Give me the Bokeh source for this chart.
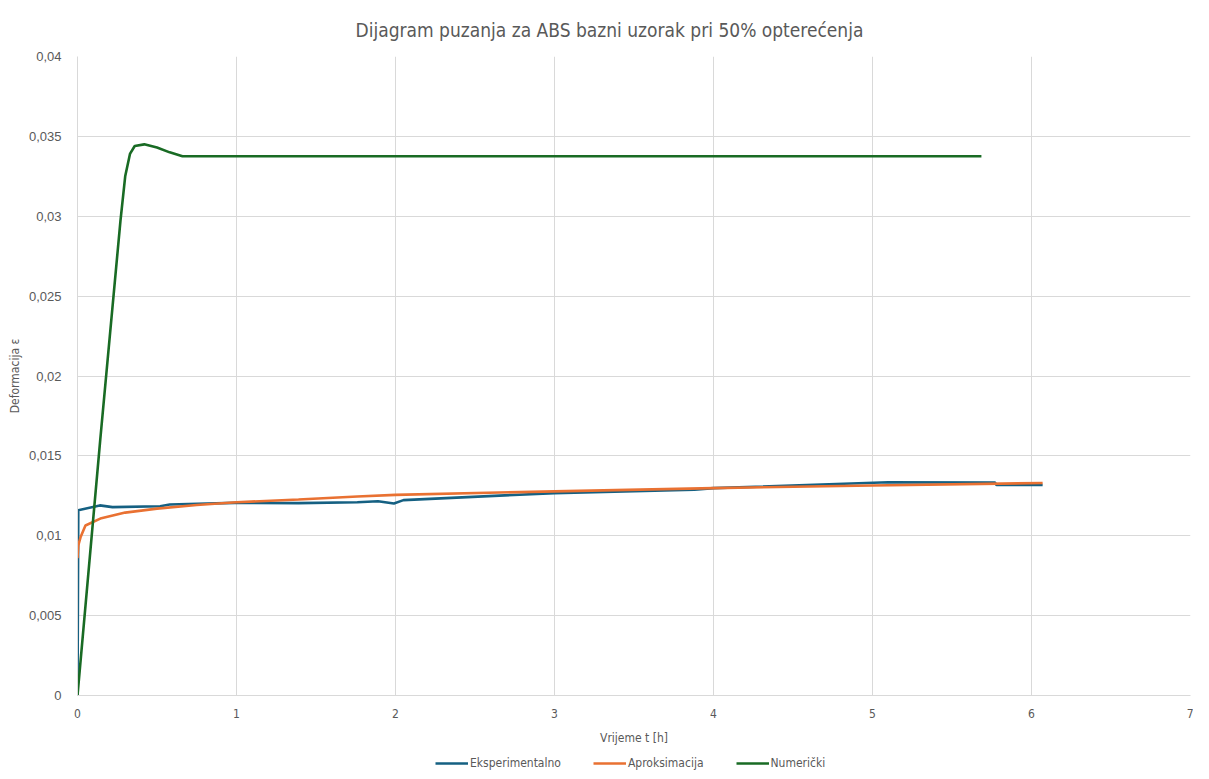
from bokeh.plotting import figure
from bokeh.layouts import column
from bokeh.models import FixedTicker, Legend, LegendItem, Range1d
from bokeh.embed import file_html
from bokeh.resources import INLINE

# Eksperimentalno (blue)
t_exp = [0, 0.005, 0.14, 0.22, 0.52, 0.58, 0.99, 1.39, 1.76, 1.89, 1.99, 2.05,
         3.0, 3.88, 4.0, 5.1, 5.77, 5.78, 6.07]
e_exp = [0.0, 0.0116, 0.0119, 0.01179, 0.01185, 0.01196, 0.01206, 0.01204, 0.0121,
         0.01216, 0.01202, 0.01223, 0.01267, 0.01289, 0.01298, 0.01335, 0.01333,
         0.01318, 0.01318]

# Aproksimacija (orange)
t_apr = [0, 0.005, 0.019, 0.05, 0.15, 0.3, 0.5, 0.75, 1.0, 1.39, 1.76, 2.0, 3.0,
         4.0, 5.0, 6.07]
e_apr = [0.0086, 0.0094, 0.0099, 0.01064, 0.0111, 0.01145, 0.0117, 0.01192,
         0.0121, 0.01227, 0.01246, 0.01256, 0.01278, 0.01298, 0.01315, 0.0133]

# Numerički (green)
t_num = [0, 0.143, 0.27, 0.30, 0.33, 0.36, 0.42, 0.5, 0.58, 0.66, 5.685]
e_num = [0.0, 0.016, 0.0297, 0.0325, 0.0339, 0.0344, 0.0345, 0.0343, 0.0340,
         0.03376, 0.03376]

x_ticks = [0, 1, 2, 3, 4, 5, 6, 7]
y_ticks = [0, 0.005, 0.01, 0.015, 0.02, 0.025, 0.03, 0.035, 0.04]
y_labels = ["0", "0,005", "0,01", "0,015", "0,02", "0,025", "0,03", "0,035", "0,04"]

title_txt = "Dijagram puzanja za ABS bazni uzorak  pri 50% opterećenja"
series_names = ["Eksperimentalno", "Aproksimacija", "Numerički"]
colors = ["#156082", "#E97132", "#196B24"]
series = [(t_exp, e_exp), (t_apr, e_apr), (t_num, e_num)]

NARROW = "DejaVu Sans Condensed, Roboto"
GREY = "#595959"

p1 = figure(width=1193, height=749, output_backend="svg", toolbar_location=None,
            x_range=Range1d(0, 7), y_range=Range1d(0, 0.04),
            min_border_left=77, min_border_right=3, min_border_top=56,
            min_border_bottom=54, title=title_txt)

p1.title.align = "left"
p1.title.offset = 278
p1.title.text_font = NARROW
p1.title.text_font_size = "19px"
p1.title.text_font_style = "normal"
p1.title.text_color = GREY
p1.title.standoff = 31

for (tx, ey), c in zip(series, colors):
    p1.line(tx, ey, line_color=c, line_width=2.6)

p1.xaxis.ticker = FixedTicker(ticks=x_ticks)
p1.yaxis.ticker = FixedTicker(ticks=y_ticks)
p1.yaxis.major_label_overrides = {t: l for t, l in zip(y_ticks, y_labels)}

for ax in (p1.xaxis, p1.yaxis):
    ax.axis_line_color = "#D9D9D9"
    ax.major_tick_line_color = None
    ax.minor_tick_line_color = None
    ax.major_label_text_color = GREY
    ax.axis_label_text_color = GREY
    ax.axis_label_text_font = NARROW
    ax.axis_label_text_font_style = "normal"
    ax.axis_label_text_font_size = "12px"

p1.xaxis.major_label_text_font = NARROW
p1.xaxis.major_label_text_font_size = "12px"
p1.yaxis.major_label_text_font = "Liberation Sans"
p1.yaxis.major_label_text_font_size = "13px"
p1.xaxis.axis_label = "Vrijeme t [h]"
p1.yaxis.axis_label = "Deformacija ε"
p1.xaxis.major_label_standoff = 7
p1.yaxis.major_label_standoff = 10
p1.xaxis.axis_label_standoff = 10
p1.yaxis.axis_label_standoff = 4

p1.grid.grid_line_color = "#D9D9D9"
p1.grid.grid_line_width = 1
p1.outline_line_color = None

# legend strip below the chart (series drawn outside its visible y-range)
p2 = figure(width=1193, height=22, output_backend="svg", toolbar_location=None,
            x_range=Range1d(0, 7), y_range=Range1d(1, 2),
            x_axis_type=None, y_axis_type=None, min_border=0)
p2.grid.visible = False
p2.outline_line_color = None
leg_r = [p2.line(tx, ey, line_color=c, line_width=2.6)
         for (tx, ey), c in zip(series, colors)]
legend = Legend(items=[LegendItem(label=n, renderers=[r])
                       for n, r in zip(series_names, leg_r)],
                orientation="horizontal", location=(358, 0),
                label_text_font=NARROW, label_text_font_size="12px",
                label_text_color=GREY, glyph_width=33, glyph_height=16,
                spacing=32, border_line_color=None, background_fill_alpha=0,
                margin=0, padding=2, label_standoff=2)
p2.add_layout(legend, "center")

layout = column(p1, p2, spacing=0)
open("out.html", "w").write(file_html(layout, INLINE))
